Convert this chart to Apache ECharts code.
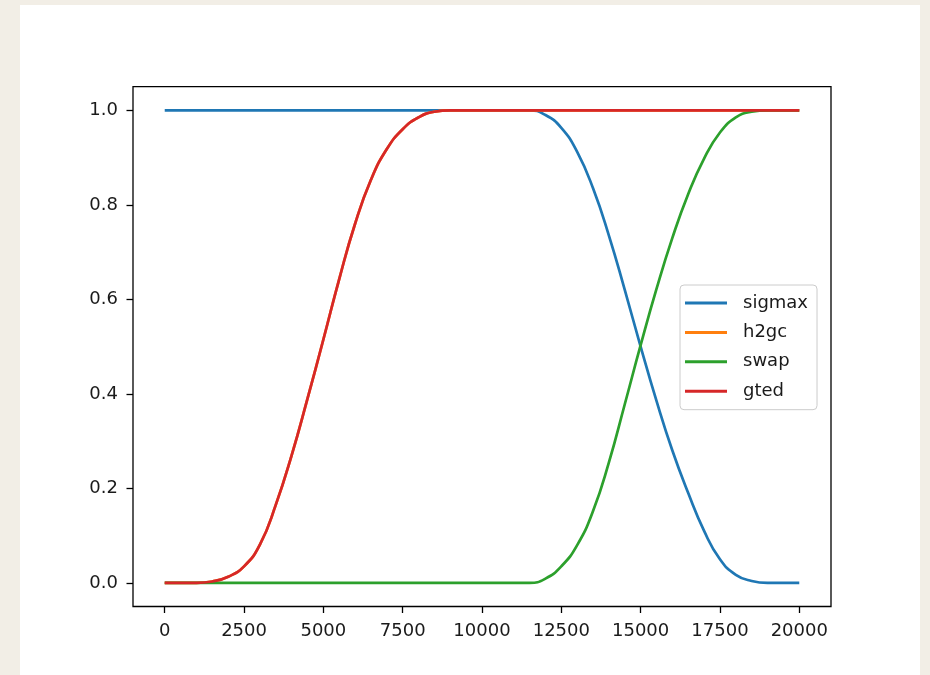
<!DOCTYPE html>
<html>
<head>
<meta charset="utf-8">
<script src="https://cdn.jsdelivr.net/npm/echarts@6/dist/echarts.min.js"></script>
<style>
  html, body { margin: 0; padding: 0; width: 930px; height: 675px; overflow: hidden; background: #f2eee6; }
  #card { position: absolute; left: 20px; top: 5px; width: 900px; height: 670px; background: #ffffff; }
  #chart { position: absolute; left: 0; top: 0; width: 930px; height: 675px; }
</style>
</head>
<body>
<div id="card"></div>
<div id="chart"></div>
<script>
// x positions (steps)
const steps = [0, 500, 1000, 1500, 2000, 2500, 3000, 3500, 4000, 4500,
  5000, 5500, 6000, 6500, 7000, 7500, 8000, 8500, 9000, 9500,
  10000, 10500, 11000, 11500, 12000, 12500, 13000, 13500, 14000, 14500,
  15000, 15500, 16000, 16500, 17000, 17500, 18000, 18500, 19000, 19500, 20000];

const sigmax = [1, 1, 1, 1, 1, 1, 1, 1, 1, 1,
  1, 1, 1, 1, 1, 1, 1, 1, 1, 1,
  1, 1, 1, 1, 0.99, 0.963, 0.912, 0.835, 0.735, 0.62,
  0.50, 0.385, 0.28, 0.19, 0.11, 0.05, 0.017, 0.004, 0, 0, 0];

const h2gc = [0, 0, 0, 0.003, 0.013, 0.035, 0.081, 0.165, 0.27, 0.39,
  0.515, 0.643, 0.76, 0.853, 0.918, 0.96, 0.985, 0.997, 1, 1,
  1, 1, 1, 1, 1, 1, 1, 1, 1, 1,
  1, 1, 1, 1, 1, 1, 1, 1, 1, 1, 1];

const swap = [0, 0, 0, 0, 0, 0, 0, 0, 0, 0,
  0, 0, 0, 0, 0, 0, 0, 0, 0, 0,
  0, 0, 0, 0, 0.009, 0.035, 0.08, 0.152, 0.255, 0.378,
  0.503, 0.622, 0.73, 0.823, 0.898, 0.953, 0.985, 0.997, 1, 1, 1];

const gted = [0, 0, 0, 0.003, 0.013, 0.035, 0.081, 0.165, 0.27, 0.39,
  0.515, 0.643, 0.76, 0.853, 0.918, 0.96, 0.985, 0.997, 1, 1,
  1, 1, 1, 1, 1, 1, 1, 1, 1, 1,
  1, 1, 1, 1, 1, 1, 1, 1, 1, 1, 1];

const xTicks = [0, 2500, 5000, 7500, 10000, 12500, 15000, 17500, 20000];
const yTicks = [0.0, 0.2, 0.4, 0.6, 0.8, 1.0];

const seriesNames = ['sigmax', 'h2gc', 'swap', 'gted'];
const seriesColors = ['#1f77b4', '#ff7f0e', '#2ca02c', '#d62728'];
const seriesValues = [sigmax, h2gc, swap, gted];

const FONT = 'DejaVu Sans';
const chart = echarts.init(document.getElementById('chart'), null, { renderer: 'canvas' });

const series = seriesNames.map((name, i) => ({
  name: name,
  type: 'line',
  data: steps.map((x, j) => [x, seriesValues[i][j]]),
  showSymbol: false,
  symbol: 'none',
  smooth: 0.5,
  lineStyle: { color: seriesColors[i], width: 2.7 },
  itemStyle: { color: seriesColors[i] },
  animation: false,
  z: 2 + i
}));

chart.setOption({
  backgroundColor: 'transparent',
  animation: false,
  grid: {
    left: 133, top: 86.7, width: 698, height: 519.8,
    show: true, backgroundColor: '#ffffff', borderColor: '#000000', borderWidth: 1.3
  },
  xAxis: {
    type: 'value', min: -1000, max: 21000,
    axisLine: { show: false, onZero: false },
    splitLine: { show: false },
    axisTick: { show: true, inside: false, length: 6.5, customValues: xTicks, lineStyle: { color: '#000', width: 1.3 } },
    axisLabel: { customValues: xTicks, margin: 15.5, fontFamily: FONT, fontSize: 18, color: '#1a1a1a', formatter: v => String(v) }
  },
  yAxis: {
    type: 'value', min: -0.05, max: 1.05,
    axisLine: { show: false, onZero: false },
    splitLine: { show: false },
    axisTick: { show: true, inside: false, length: 6.5, customValues: yTicks, lineStyle: { color: '#000', width: 1.3 } },
    axisLabel: { customValues: yTicks, margin: 15, fontFamily: FONT, fontSize: 18, color: '#1a1a1a', formatter: v => v.toFixed(1) }
  },
  legend: {
    data: seriesNames,
    orient: 'vertical',
    left: 680, top: 285,
    width: 141,
    padding: [9, 9, 9.5, 5],
    itemGap: 11.4,
    itemWidth: 42,
    itemHeight: 3,
    icon: 'rect',
    backgroundColor: 'rgba(255,255,255,0.8)',
    borderColor: '#cccccc',
    borderWidth: 1,
    borderRadius: 4,
    textStyle: { fontFamily: FONT, fontSize: 18, color: '#1a1a1a', padding: [0, 0, 0, 11] }
  },
  series: series
});
</script>
</body>
</html>
